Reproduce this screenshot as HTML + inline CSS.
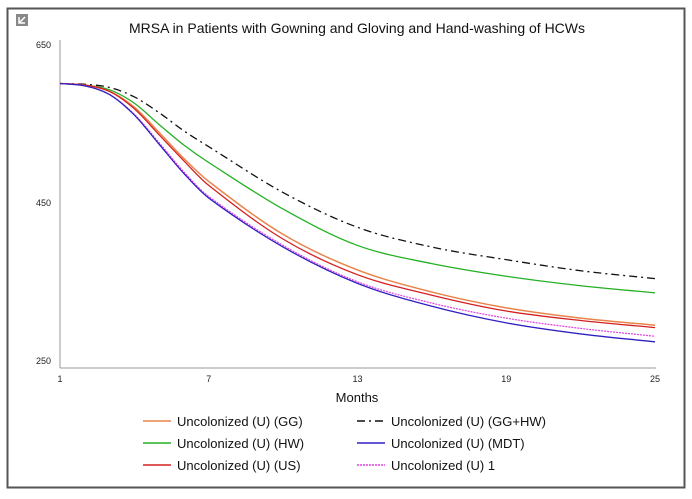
<!DOCTYPE html>
<html><head><meta charset="utf-8"><style>
body{margin:0;background:#fff;width:692px;height:494px;overflow:hidden;font-family:"Liberation Sans",sans-serif}
</style></head><body>
<svg width="692" height="494" font-family="Liberation Sans, sans-serif">
<rect x="7.5" y="8.5" width="677" height="479" fill="#fff" stroke="#555" stroke-width="2"/>
<rect x="16" y="14" width="12" height="12" fill="#888"/>
<path d="M19 23 L25 17 M19 17 L19 23 L25 23" stroke="#fff" stroke-width="1.5" fill="none"/>
<text x="357" y="33" text-anchor="middle" font-size="14" fill="#111">MRSA in Patients with Gowning and Gloving and Hand-washing of HCWs</text>
<g id="axes"></g>
<g id="series"></g>
<text x="357" y="402" text-anchor="middle" font-size="13" fill="#111">Months</text>
<g id="legend"></g>
</svg>
<script>
const months=[1,2,3,4,5,6,7,10,13,16,19,22,25];
const xTicks=[1,7,13,19,25];
const yTicks=[250,450,650];
const seriesNames=["Uncolonized (U) (GG)","Uncolonized (U) (GG+HW)","Uncolonized (U) (HW)","Uncolonized (U) (MDT)","Uncolonized (U) (US)","Uncolonized (U) 1"];
const valGG=[600,598,590,570,538,505,476,409,364,336,316,303,294];
const valGGHW=[600,599,595,583,563,540,520,462,418,393,377,363,353];
const valHW=[600,598,592,575,548,522,500,441,395,372,356,344,335];
const valMDT=[600,597,586,560,523,486,455,393,347,318,297,283,273];
const valUS=[600,598,590,568,535,502,471,403,358,332,312,300,291];
const val1=[600,597,586,561,525,488,457,395,349,322,303,290,280];
const ns="http://www.w3.org/2000/svg";
const X=m=>60+(m-1)*(595/24);
const Y=v=>44+(650-v)*0.79;
function mk(t,a,p){const e=document.createElementNS(ns,t);for(const k in a)e.setAttribute(k,a[k]);p.appendChild(e);return e;}
const ax=document.getElementById('axes');
const yl=mk('line',{x1:60,y1:40,x2:60,y2:368,stroke:'#999'},ax);


const xl=mk('line',{x1:60,y1:368,x2:656,y2:368,stroke:'#999'},ax);


yTicks.forEach(v=>{const t=mk('text',{x:51,y:Y(v)+4,'text-anchor':'end','font-size':9,fill:'#222'},ax);t.textContent=v;

});
xTicks.forEach(m=>{const t=mk('text',{x:X(m),y:382,'text-anchor':'middle','font-size':9,fill:'#222'},ax);t.textContent=m;

});
function pathFor(vals){
  const n=months.length;
  const slope=i=>{const a=Math.max(0,i-1),b=Math.min(n-1,i+1);return (vals[b]-vals[a])/(months[b]-months[a]);};
  let d='M'+X(months[0])+' '+Y(vals[0]);
  for(let i=0;i<n-1;i++){
    const h=months[i+1]-months[i];
    const s1=slope(i),s2=slope(i+1);
    const t1=months[i]+h/3,v1=vals[i]+s1*h/3;
    const t2=months[i+1]-h/3,v2=vals[i+1]-s2*h/3;
    d+=` C${X(t1)} ${Y(v1)} ${X(t2)} ${Y(v2)} ${X(months[i+1])} ${Y(vals[i+1])}`;
  }
  return d;}
const styles=[
{v:valGGHW,c:'#111',dash:'8 4 2 4',w:1.3,n:'line-gg-hw'},
{v:valHW,c:'#22b022',dash:'',w:1.3,n:'line-hw'},
{v:valGG,c:'#e8844a',dash:'',w:1.5,n:'line-gg'},
{v:valUS,c:'#d42020',dash:'',w:1.3,n:'line-us'},
{v:val1,c:'#e040e0',dash:'2 1',w:1.2,n:'line-1'},
{v:valMDT,c:'#3020c0',dash:'',w:1.3,n:'line-mdt'}];
const sg=document.getElementById('series');
styles.forEach(s=>{const p=mk('path',{d:pathFor(s.v),fill:'none',stroke:s.c,'stroke-width':s.w,'stroke-dasharray':s.dash},sg);

});
const leg=[[0,'#e8844a','',143,421],[1,'#111','8 4 2 4',357,421],[2,'#22b022','',143,443],[3,'#3020c0','',357,443],[4,'#d42020','',143,465],[5,'#e040e0','2 1',357,465]];
const lg=document.getElementById('legend');
leg.forEach(([i,c,d,x,y])=>{const g=mk('g',{},lg);


mk('line',{x1:x,y1:y,x2:x+28,y2:y,stroke:c,'stroke-width':1.5,'stroke-dasharray':d},g);
const t=mk('text',{x:x+34,y:y+5,'font-size':13,fill:'#111'},g);t.textContent=seriesNames[i];});
</script>
</body></html>
